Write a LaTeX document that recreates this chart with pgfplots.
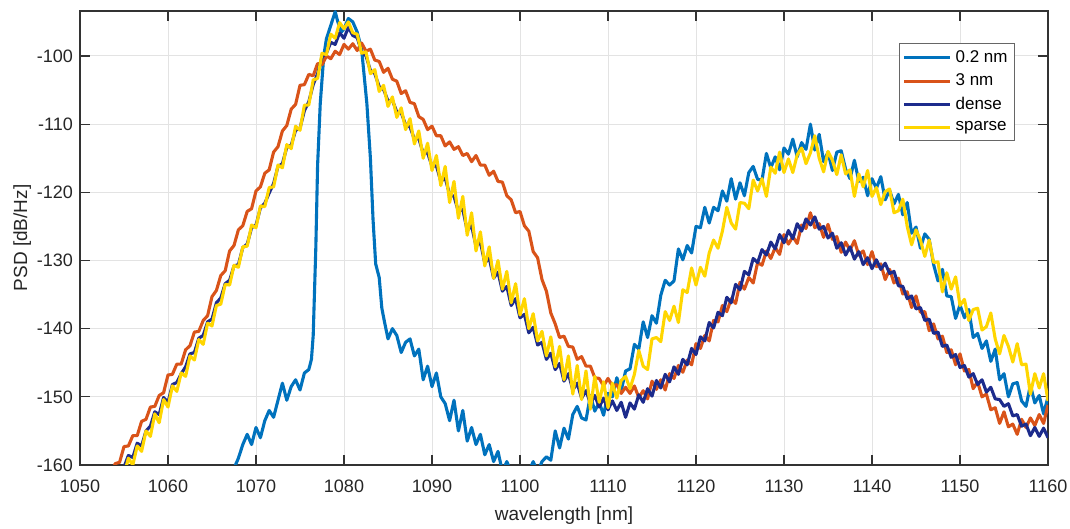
\documentclass[border=0pt]{standalone}
\usepackage{pgfplots}
\pgfplotsset{compat=1.18}
\usepackage{fontspec}
\setmainfont{Liberation Sans}
\definecolor{cblue}{rgb}{0,0.447,0.741}
\definecolor{corange}{rgb}{0.85,0.325,0.098}
\definecolor{cnavy}{rgb}{0.11,0.17,0.55}
\definecolor{cyellow}{rgb}{1,0.84,0}
\begin{document}
\begin{tikzpicture}
\begin{axis}[
  scale only axis, width=484pt, height=227pt,
  xmin=1050, xmax=1160, ymin=-160, ymax=-93.4,
  xtick={1050,1060,...,1160}, ytick={-160,-150,...,-100},
  tick align=inside, tick pos=both, major tick length=5pt,
  grid=major, major grid style={gray!22, line width=0.5pt},
  axis line style={black!80, line width=0.6pt},
  tick style={black!80, line width=0.6pt},
  /pgf/number format/assume math mode=true,
  /pgf/number format/1000 sep={},
  ticklabel style={font=\fontsize{9}{10}\selectfont, black!85},
  xticklabel style={yshift=-4pt},
  xlabel={wavelength [nm]}, ylabel={PSD [dB/Hz]},
  label style={font=\fontsize{9.5}{11}\selectfont, black!85},
  xlabel style={yshift=0pt},
  ylabel style={yshift=-4pt},
  legend style={at={(axis description cs:0.966,0.93)}, anchor=north east,
    font=\fontsize{8.5}{10}\selectfont, draw=black!60, line width=0.5pt,
    inner sep=1.5pt, row sep=0.3pt, legend cell align=left},
  legend image code/.code={\draw[#1, line width=1.6pt] (0pt,0pt) -- (23pt,0pt);},
  every axis plot/.append style={line width=1.55pt, line join=round},
]
% 0.2 nm
\addplot[cblue] coordinates {
(1066,-166) (1067,-162) (1068,-159) (1068.5,-157) (1069,-155.5) (1069.5,-157) (1070,-154.5) (1070.5,-156) (1071,-153.5) (1071.5,-152) (1072,-153) (1072.5,-150.5) (1073,-148) (1073.5,-150.5) (1074,-148.5) (1074.5,-147.5) (1075,-149) (1075.5,-146.5) (1076,-146) (1076.3,-144.5) (1076.5,-141) (1076.8,-128) (1077,-116) (1077.3,-107) (1077.7,-100) (1078,-97.5) (1078.5,-95.5) (1079,-93.5) (1079.3,-95) (1079.7,-96.5) (1080,-96) (1080.5,-94.5) (1081,-95) (1081.5,-96.5) (1082,-99) (1082.3,-103) (1082.6,-107) (1083,-115) (1083.3,-124) (1083.6,-130.5) (1084,-132.5) (1084.3,-137) (1084.6,-139) (1085,-141.5) (1085.5,-140) (1086,-141) (1086.5,-143.5) (1087,-142) (1087.5,-141.5) (1088,-144) (1088.5,-143) (1089,-147.5) (1089.5,-145.5) (1090,-148.5) (1090.5,-146.5) (1091,-150) (1091.5,-151) (1092,-153.5) (1092.5,-150.5) (1093,-155) (1093.5,-152) (1094,-156.5) (1094.5,-154.5) (1095,-157) (1095.5,-155.5) (1096,-158.5) (1096.5,-157) (1097,-159.5) (1097.5,-158) (1098,-161) (1098.5,-159.5) (1099,-161) (1100,-162) (1101,-161) (1101.5,-159.5) (1102,-161) (1102.5,-159.5)
(1103,-158.8) (1103.5,-159.3) (1104,-155.0) (1104.5,-157.5) (1105,-154.6) (1105.5,-156.2) (1106,-152.6) (1106.5,-151.4) (1107,-153.1) (1107.5,-153.4) (1108,-149.8) (1108.5,-152.1) (1109,-150.8) (1109.5,-152.7) (1110,-149.5) (1110.5,-150.0) (1111,-147.2) (1111.5,-149.1) (1112,-146.2) (1112.5,-145.9) (1113,-142.3) (1113.5,-143.0) (1114,-139.0) (1114.5,-141.3) (1115,-138.1) (1115.5,-139.2) (1116,-135.1) (1116.5,-132.9) (1117,-133.6) (1117.5,-133.0) (1118,-128.3) (1118.5,-129.9) (1119,-127.8) (1119.5,-128.9) (1120,-125.0) (1120.5,-125.2) (1121,-122.2) (1121.5,-124.5) (1122,-122.2) (1122.5,-122.7) (1123,-119.8) (1123.5,-121.3) (1124,-118.0) (1124.5,-121.0) (1125,-118.6) (1125.5,-120.5) (1126,-117.1) (1126.5,-116.2) (1127,-118.1) (1127.5,-118.2) (1128,-114.3) (1128.5,-116.4) (1129,-114.8) (1129.5,-116.7) (1130,-113.5) (1130.5,-114.4) (1131,-112.2) (1131.5,-114.8) (1132,-112.7) (1132.5,-113.7) (1133,-110.0) (1133.5,-113.8) (1134,-111.5) (1134.5,-115.5) (1135,-114.1) (1135.5,-116.8) (1136,-114.1) (1136.5,-113.9) (1137,-116.6) (1137.5,-118.0) (1138,-115.3) (1138.5,-118.4) (1139,-117.8) (1139.5,-120.5) (1140,-118.0) (1140.5,-119.4) (1141,-117.7) (1141.5,-121.1) (1142,-119.7) (1142.5,-121.7) (1143,-120.3) (1143.5,-123.3) (1144,-121.5) (1144.5,-126.0) (1145,-125.1) (1145.5,-128.2) (1146,-126.1) (1146.5,-126.9) (1147,-130.6) (1147.5,-133.0) (1148,-131.3) (1148.5,-135.2) (1149,-135.3) (1149.5,-138.5) (1150,-136.5) (1150.5,-138.4) (1151,-137.2) (1151.5,-141.3) (1152,-140.7) (1152.5,-142.9) (1153,-141.8) (1153.5,-144.8) (1154,-143.0) (1154.5,-147.5) (1155,-146.6) (1155.5,-150.0) (1156,-148.1) (1156.5,-147.9) (1157,-150.6) (1157.5,-151.4) (1158,-148.3) (1158.5,-150.9) (1159,-149.8) (1159.5,-152.5) (1160,-150.0)
};
\addlegendentry{0.2 nm}
% 3 nm
\addplot[corange] coordinates {
(1053,-161.5) (1053.5,-161.4) (1054,-159.8) (1054.5,-159.6) (1055,-157.3) (1055.5,-157.2) (1056,-155.7) (1056.5,-155.7) (1057,-153.6) (1057.5,-153.3) (1058,-151.5) (1058.5,-151.4) (1059,-149.8) (1059.5,-149.4) (1060,-146.8) (1060.5,-146.7) (1061,-145.2) (1061.5,-145.2) (1062,-143.1) (1062.5,-142.5) (1063,-140.5) (1063.5,-140.4) (1064,-138.8) (1064.5,-138.1) (1065,-135.3) (1065.5,-134.4) (1066,-132.2) (1066.5,-131.5) (1067,-128.6) (1067.5,-127.8) (1068,-125.5) (1068.5,-124.9) (1069,-122.8) (1069.5,-122.4) (1070,-119.8) (1070.5,-119.2) (1071,-117.2) (1071.5,-116.7) (1072,-114.1) (1072.5,-113.3) (1073,-111.0) (1073.5,-110.2) (1074,-107.8) (1074.5,-107.1) (1075,-104.3) (1075.5,-104.2) (1076,-102.7) (1076.5,-102.9) (1077,-101.1) (1077.5,-101.3) (1078,-100.0) (1078.5,-100.4) (1079,-99.3) (1079.5,-99.8) (1080,-98.3) (1080.5,-99.0) (1081,-98.2) (1081.5,-99.2) (1082,-98.1) (1082.5,-99.3) (1083,-99.0) (1083.5,-100.6) (1084,-100.8) (1084.5,-102.4) (1085,-101.8) (1085.5,-103.4) (1086,-103.7) (1086.5,-105.5) (1087,-105.1) (1087.5,-106.8) (1088,-107.0) (1088.5,-108.9) (1089,-109.3) (1089.5,-110.8) (1090,-110.3) (1090.5,-111.7) (1091,-111.7) (1091.5,-113.2) (1092,-112.6) (1092.5,-113.7) (1093,-113.3) (1093.5,-114.6) (1094,-114.3) (1094.5,-115.5) (1095,-114.6) (1095.5,-116.0) (1096,-116.0) (1096.5,-117.5) (1097,-116.9) (1097.5,-118.4) (1098,-118.5) (1098.5,-120.5) (1099,-121.1) (1099.5,-123.0) (1100,-122.8) (1100.5,-124.9) (1101,-125.7) (1101.5,-128.7) (1102,-129.6) (1102.5,-132.8) (1103,-134.5) (1103.5,-137.7) (1104,-139.3) (1104.5,-141.3) (1105,-141.1) (1105.5,-142.6) (1106,-142.7) (1106.5,-144.5) (1107,-144.1) (1107.5,-145.5) (1108,-145.5) (1108.5,-147.2) (1109,-147.3) (1109.5,-148.4) (1110,-147.3) (1110.5,-148.4) (1111,-148.2) (1111.5,-149.5) (1112,-148.6) (1112.5,-149.5)
(1113,-148.4) (1113.5,-150.1) (1114,-149.1) (1114.5,-150.3) (1115,-147.7) (1115.5,-148.9) (1116,-147.5) (1116.5,-149.0) (1117,-146.6) (1117.5,-147.3) (1118,-145.4) (1118.5,-146.4) (1119,-144.6) (1119.5,-145.3) (1120,-142.2) (1120.5,-142.9) (1121,-141.0) (1121.5,-141.8) (1122,-138.8) (1122.5,-139.0) (1123,-136.6) (1123.5,-137.5) (1124,-135.6) (1124.5,-136.3) (1125,-133.2) (1125.5,-134.2) (1126,-132.5) (1126.5,-133.3) (1127,-130.3) (1127.5,-130.7) (1128,-128.6) (1128.5,-129.7) (1129,-128.1) (1129.5,-129.1) (1130,-126.2) (1130.5,-127.6) (1131,-126.5) (1131.5,-127.5) (1132,-124.8) (1132.5,-125.3) (1133,-123.0) (1133.5,-125.2) (1134,-124.6) (1134.5,-126.6) (1135,-124.7) (1135.5,-126.9) (1136,-126.5) (1136.5,-128.8) (1137,-127.3) (1137.5,-128.5) (1138,-127.1) (1138.5,-129.2) (1139,-128.6) (1139.5,-130.6) (1140,-128.7) (1140.5,-130.9) (1141,-130.5) (1141.5,-132.8) (1142,-131.3) (1142.5,-133.3) (1143,-132.6) (1143.5,-134.9) (1144,-134.6) (1144.5,-136.9) (1145,-135.2) (1145.5,-137.6) (1146,-137.5) (1146.5,-140.3) (1147,-139.3) (1147.5,-141.5) (1148,-141.1) (1148.5,-143.5) (1149,-143.1) (1149.5,-145.3) (1150,-143.7) (1150.5,-146.2) (1151,-146.0) (1151.5,-148.8) (1152,-147.8) (1152.5,-150.0) (1153,-149.6) (1153.5,-151.9) (1154,-151.6) (1154.5,-153.9) (1155,-152.2) (1155.5,-154.4) (1156,-154.0) (1156.5,-155.5) (1157,-153.3) (1157.5,-154.5) (1158,-153.1) (1158.5,-154.2) (1159,-152.6) (1159.5,-153.9) (1160,-151.2)
};
\addlegendentry{3 nm}
% dense
\addplot[cnavy] coordinates {
(1054,-162.0) (1054.5,-160.5) (1055,-160.3) (1055.5,-158.6) (1056,-158.9) (1056.5,-156.8) (1057,-157.2) (1057.5,-155.0) (1058,-154.3) (1058.5,-152.2) (1059,-152.6) (1059.5,-150.1) (1060,-150.8) (1060.5,-148.2) (1061,-147.9) (1061.5,-146.6) (1062,-145.6) (1062.5,-143.7) (1063,-143.5) (1063.5,-141.4) (1064,-141.0) (1064.5,-139.0) (1065,-138.6) (1065.5,-136.2) (1066,-135.5) (1066.5,-133.4) (1067,-132.9) (1067.5,-130.8) (1068,-130.6) (1068.5,-128.1) (1069,-127.6) (1069.5,-125.2) (1070,-124.8) (1070.5,-122.3) (1071,-121.6) (1071.5,-120.1) (1072,-118.7) (1072.5,-116.2) (1073,-115.8) (1073.5,-113.4) (1074,-113.1) (1074.5,-110.9) (1075,-110.6) (1075.5,-108.0) (1076,-106.7) (1076.5,-104.2) (1077,-102.6) (1077.5,-100.1) (1078,-99.6) (1078.5,-98.0) (1079,-98.3) (1079.5,-96.6) (1080,-97.4) (1080.5,-95.8) (1081,-97.0) (1081.5,-97.3) (1082,-99.4) (1082.5,-100.0) (1083,-102.1) (1083.5,-102.6) (1084,-104.5) (1084.5,-104.9) (1085,-106.6) (1085.5,-106.5) (1086,-108.2) (1086.5,-108.3) (1087,-110.1) (1087.5,-110.4) (1088,-112.2) (1088.5,-112.1) (1089,-114.3) (1089.5,-114.2) (1090,-116.2) (1090.5,-116.1) (1091,-118.4) (1091.5,-117.9) (1092,-120.3) (1092.5,-120.6) (1093,-122.8) (1093.5,-122.5) (1094,-125.6) (1094.5,-124.9) (1095,-127.9) (1095.5,-127.3) (1096,-130.4) (1096.5,-129.6) (1097,-132.6) (1097.5,-131.7) (1098,-134.5) (1098.5,-133.8) (1099,-136.6) (1099.5,-135.6) (1100,-138.4) (1100.5,-137.9) (1101,-140.6) (1101.5,-139.8) (1102,-142.4) (1102.5,-142.0) (1103,-144.5) (1103.5,-143.6) (1104,-146.0) (1104.5,-145.1) (1105,-147.7) (1105.5,-146.6) (1106,-149.0) (1106.5,-148.0) (1107,-150.2) (1107.5,-149.1) (1108,-151.0) (1108.5,-149.8) (1109,-151.5) (1109.5,-150.2) (1110,-151.9) (1110.5,-150.6) (1111,-152.0) (1111.5,-150.8) (1112,-153.0) (1112.5,-150.9) (1113,-151.8) (1113.5,-149.7) (1114,-150.8) (1114.5,-148.8) (1115,-149.9) (1115.5,-147.6) (1116,-148.7) (1116.5,-146.7) (1117,-147.8) (1117.5,-145.6) (1118,-146.7) (1118.5,-144.5) (1119,-145.3) (1119.5,-142.9) (1120,-143.8) (1120.5,-141.2) (1121,-141.8) (1121.5,-139.1) (1122,-139.9) (1122.5,-137.6) (1123,-138.1) (1123.5,-135.4) (1124,-136.2) (1124.5,-133.5) (1125,-134.3) (1125.5,-131.6) (1126,-132.1) (1126.5,-129.7) (1127,-130.3) (1127.5,-128.4) (1128,-129.2) (1128.5,-127.3) (1129,-128.3) (1129.5,-126.2) (1130,-127.4) (1130.5,-125.6) (1131,-126.8) (1131.5,-124.6) (1132,-125.7) (1132.5,-123.9) (1133,-124.8) (1133.5,-123.6) (1134,-125.4) (1134.5,-125.0) (1135,-126.7) (1135.5,-126.0) (1136,-128.2) (1136.5,-127.4) (1137,-129.2) (1137.5,-128.0) (1138,-129.8) (1138.5,-128.7) (1139,-130.6) (1139.5,-129.6) (1140,-131.2) (1140.5,-129.9) (1141,-131.3) (1141.5,-130.4) (1142,-131.9) (1142.5,-131.6) (1143,-133.7) (1143.5,-133.8) (1144,-135.6) (1144.5,-135.2) (1145,-137.1) (1145.5,-136.9) (1146,-138.8) (1146.5,-138.6) (1147,-140.7) (1147.5,-140.5) (1148,-142.6) (1148.5,-142.4) (1149,-144.2) (1149.5,-143.8) (1150,-145.7) (1150.5,-145.4) (1151,-147.1) (1151.5,-146.6) (1152,-148.2) (1152.5,-147.5) (1153,-149.3) (1153.5,-148.6) (1154,-150.3) (1154.5,-150.4) (1155,-151.4) (1155.5,-151.0) (1156,-152.8) (1156.5,-152.6) (1157,-154.3) (1157.5,-154.0) (1158,-155.7) (1158.5,-154.5) (1159,-155.8) (1159.5,-154.6) (1160,-156.0)
};
\addlegendentry{dense}
% sparse
\addplot[cyellow] coordinates {
(1055,-161.5) (1055.5,-159.0) (1056,-160.0) (1056.5,-157.2) (1057,-158.0) (1057.5,-155.0) (1058,-155.8) (1058.5,-152.5) (1059,-153.8) (1059.5,-150.4) (1060,-151.5) (1060.5,-148.4) (1061,-149.2) (1061.5,-146.5) (1062,-147.0) (1062.5,-144.0) (1063,-144.6) (1063.5,-141.6) (1064,-142.3) (1064.5,-139.2) (1065,-139.6) (1065.5,-136.6) (1066,-136.4) (1066.5,-133.5) (1067,-133.6) (1067.5,-130.7) (1068,-131.0) (1068.5,-128.0) (1069,-127.9) (1069.5,-124.8) (1070,-125.2) (1070.5,-122.0) (1071,-122.1) (1071.5,-119.3) (1072,-119.2) (1072.5,-116.0) (1073,-116.4) (1073.5,-113.0) (1074,-113.6) (1074.5,-110.3) (1075,-110.9) (1075.5,-107.2) (1076,-107.2) (1076.5,-103.5) (1077,-103.3) (1077.5,-99.6) (1078,-99.8) (1078.5,-96.8) (1079,-97.4) (1079.5,-95.1) (1080,-96.0) (1080.5,-95.0) (1081,-96.6) (1081.5,-96.8) (1082,-99.6) (1082.5,-99.4) (1083,-102.6) (1083.5,-102.0) (1084,-105.2) (1084.5,-104.3) (1085,-107.4) (1085.5,-106.0) (1086,-109.0) (1086.5,-107.6) (1087,-110.8) (1087.5,-109.2) (1088,-112.9) (1088.5,-111.0) (1089,-115.0) (1089.5,-112.8) (1090,-116.8) (1090.5,-114.6) (1091,-119.0) (1091.5,-116.2) (1092,-121.5) (1092.5,-118.4) (1093,-123.8) (1093.5,-120.6) (1094,-126.3) (1094.5,-123.0) (1095,-128.6) (1095.5,-125.8) (1096,-130.8) (1096.5,-128.0) (1097,-132.6) (1097.5,-130.0) (1098,-134.2) (1098.5,-131.6) (1099,-136.2) (1099.5,-133.4) (1100,-138.0) (1100.5,-135.6) (1101,-140.0) (1101.5,-137.8) (1102,-141.8) (1102.5,-140.4) (1103,-144.0) (1103.5,-141.2) (1104,-145.6) (1104.5,-142.6) (1105,-147.5) (1105.5,-144.0) (1106,-149.6) (1106.5,-145.4) (1107,-150.4) (1107.5,-146.2) (1108,-151.8) (1108.5,-147.0) (1109,-150.8) (1109.5,-147.8) (1110,-151.6) (1110.5,-148.0) (1111,-150.2) (1111.5,-147.6)
(1112,-147.0) (1112.5,-148.8) (1113,-146.7) (1113.5,-143.2) (1114,-145.5) (1114.5,-146.0) (1115,-141.5) (1115.5,-141.3) (1116,-141.9) (1116.5,-137.5) (1117,-138.8) (1117.5,-136.7) (1118,-139.1) (1118.5,-134.3) (1119,-134.7) (1119.5,-131.1) (1120,-133.6) (1120.5,-131.0) (1121,-132.3) (1121.5,-128.9) (1122,-127.0) (1122.5,-128.2) (1123,-125.7) (1123.5,-122.2) (1124,-124.5) (1124.5,-125.4) (1125,-121.5) (1125.5,-121.6) (1126,-122.4) (1126.5,-118.2) (1127,-119.8) (1127.5,-118.0) (1128,-120.6) (1128.5,-116.3) (1129,-117.2) (1129.5,-114.1) (1130,-117.1) (1130.5,-115.1) (1131,-117.1) (1131.5,-114.5) (1132,-113.5) (1132.5,-115.8) (1133,-114.2) (1133.5,-111.7) (1134,-115.0) (1134.5,-117.0) (1135,-114.0) (1135.5,-115.3) (1136,-117.4) (1136.5,-114.5) (1137,-117.3) (1137.5,-116.7) (1138,-120.6) (1138.5,-117.3) (1139,-119.2) (1139.5,-116.8) (1140,-120.6) (1140.5,-119.3) (1141,-121.8) (1141.5,-119.9) (1142,-119.5) (1142.5,-123.0) (1143,-122.7) (1143.5,-121.0) (1144,-125.0) (1144.5,-127.7) (1145,-125.5) (1145.5,-127.0) (1146,-129.4) (1146.5,-127.0) (1147,-130.3) (1147.5,-130.2) (1148,-134.6) (1148.5,-131.8) (1149,-134.2) (1149.5,-132.4) (1150,-136.6) (1150.5,-135.7) (1151,-138.8) (1151.5,-137.2) (1152,-137.0) (1152.5,-140.2) (1153,-139.7) (1153.5,-137.7) (1154,-141.5) (1154.5,-143.7) (1155,-141.0) (1155.5,-142.6) (1156,-144.9) (1156.5,-142.2) (1157,-145.3) (1157.5,-145.2) (1158,-149.6) (1158.5,-146.6) (1159,-148.7) (1159.5,-146.6) (1160,-150.6)
};
\addlegendentry{sparse}
\end{axis}
\pgfresetboundingbox
\path[use as bounding box] ([shift={(-40pt,-32pt)}]current axis.south west) rectangle ([shift={(11pt,5.5pt)}]current axis.north east);
\end{tikzpicture}
\end{document}
